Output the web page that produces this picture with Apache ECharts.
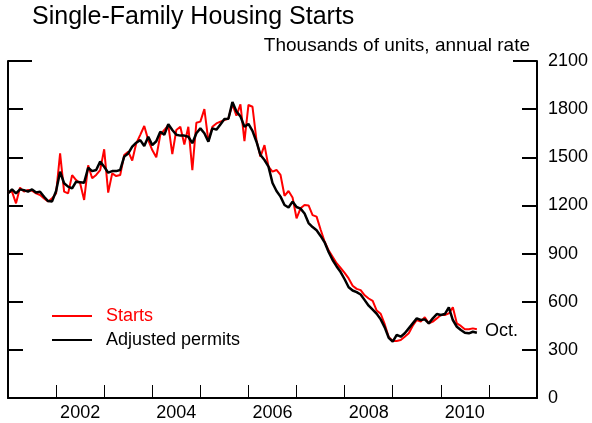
<!DOCTYPE html>
<html>
<head>
<meta charset="utf-8">
<script src="https://cdn.jsdelivr.net/npm/echarts@6/dist/echarts.min.js"></script>
<style>
html,body{margin:0;padding:0;background:#fff;}
#chart{width:592px;height:423px;}
</style>
</head>
<body>
<div id="chart"></div>
<script>
// Monthly data, Jan 2001 .. Oct 2010 (thousands of units, annual rate)
const startYear = 2001;
const starts = [
  1280, 1286, 1213, 1311, 1286, 1296, 1292, 1275, 1265, 1244, 1224, 1244,
  1275, 1524, 1286, 1275, 1389, 1358, 1338, 1234, 1450, 1369, 1390, 1420,
  1550, 1280, 1400, 1383, 1390, 1514, 1535, 1480, 1587, 1640, 1695, 1607,
  1545, 1500, 1640, 1670, 1701, 1520, 1670, 1690, 1580, 1690, 1420, 1715,
  1722, 1800, 1600, 1690, 1711, 1722, 1732, 1742, 1830, 1760, 1830, 1600,
  1826, 1815, 1607, 1504, 1576, 1442, 1411, 1421, 1390, 1260, 1290, 1250,
  1120, 1182, 1203, 1200, 1140, 1130, 1050, 975, 920, 880, 840, 810,
  780, 745, 700, 680, 672, 640, 620, 605, 545, 525, 460, 380,
  355, 355, 361, 382, 403, 450, 486, 476, 503, 465, 476, 496,
  517, 517, 527, 565, 465, 449, 428, 428, 434, 428
];
const permits = [
  1275, 1300, 1275, 1300, 1295, 1286, 1300, 1280, 1285, 1254, 1227, 1225,
  1290, 1410, 1338, 1317, 1306, 1348, 1345, 1342, 1435, 1414, 1421, 1473,
  1441, 1404, 1414, 1414, 1421, 1504, 1524, 1566, 1591, 1607, 1570, 1628,
  1576, 1600, 1660, 1640, 1706, 1670, 1640, 1635, 1635, 1628, 1588, 1650,
  1680, 1650, 1597, 1680, 1672, 1705, 1738, 1740, 1845, 1785, 1755, 1690,
  1708, 1665, 1597, 1514, 1483, 1442, 1340, 1290, 1255, 1203, 1187, 1224,
  1190, 1180, 1150, 1090, 1065, 1045, 1010, 970, 910, 860, 820, 785,
  740, 690, 670, 660, 645, 610, 575, 550, 525, 490, 440, 375,
  351, 393, 382, 403, 434, 465, 496, 486, 490, 465, 496, 523,
  517, 523, 565, 486, 444, 424, 407, 403, 413, 407
];
const axisYears = ['2001','2002','2003','2004','2005','2006','2007','2008','2009','2010','2011'];
const labelYears = ['2002','2004','2006','2008','2010'];
const yMin = 0, yMax = 2100, yStep = 300;

const toPairs = arr => arr.map((v, i) => [startYear + i / 12, v]);
const FONT = 'Liberation Sans, Arial, sans-serif';

const chart = echarts.init(document.getElementById('chart'), null, {renderer: 'canvas'});
const tickAxisBase = {
  type: 'value', min: yMin, max: yMax, interval: yStep,
  axisLine: {show: true, lineStyle: {color: '#000', width: 2}},
  axisTick: {show: true, inside: true, length: 15, lineStyle: {color: '#000', width: 2}},
  splitLine: {show: false}
};
chart.setOption({
  animation: false,
  backgroundColor: '#fff',
  grid: {left: 8, right: 55, top: 61, bottom: 25},
  graphic: [
    {type: 'text', left: 32, top: 5, style: {text: 'Single-Family Housing Starts', font: '25px ' + FONT, fill: '#000'}},
    {type: 'text', right: 62, top: 36, style: {text: 'Thousands of units, annual rate', font: '19px ' + FONT, fill: '#000'}},
    {type: 'text', left: 485, top: 322, style: {text: 'Oct.', font: '18px ' + FONT, fill: '#000'}}
  ],
  legend: {
    left: 47, top: 302, orient: 'vertical', itemGap: 6,
    itemWidth: 40, itemHeight: 2, icon: 'rect',
    textStyle: {fontFamily: FONT, fontSize: 18, lineHeight: 18, padding: [0, 0, 0, 9]},
    data: [
      {name: 'Starts', textStyle: {color: '#ff0000'}},
      {name: 'Adjusted permits', textStyle: {color: '#000'}}
    ]
  },
  xAxis: [
    {
      type: 'value', min: startYear, max: 2012, interval: 1,
      axisLine: {show: true, onZero: false, lineStyle: {color: '#000', width: 2}},
      axisTick: {show: true, inside: true, length: 13, lineStyle: {color: '#000', width: 1}},
      axisLabel: {show: false},
      splitLine: {show: false}
    },
    {
      type: 'category', data: axisYears, boundaryGap: true, position: 'bottom',
      axisLine: {show: false}, axisTick: {show: false}, splitLine: {show: false},
      axisLabel: {
        show: true, margin: 6, color: '#000', fontFamily: FONT, fontSize: 18,
        interval: (idx, val) => labelYears.includes(val)
      }
    }
  ],
  yAxis: [
    Object.assign({}, tickAxisBase, {
      position: 'right',
      axisLabel: {show: true, margin: 11, color: '#000', fontFamily: FONT, fontSize: 18,
                  formatter: v => String(v)}
    }),
    Object.assign({}, tickAxisBase, {position: 'left', axisLabel: {show: false}}),
    {type: 'value', min: yMin, max: yMax, interval: yMax, position: 'right',
     axisLine: {show: false}, axisLabel: {show: false}, splitLine: {show: false},
     axisTick: {show: true, inside: true, length: 24, lineStyle: {color: '#000', width: 2}}},
    {type: 'value', min: yMin, max: yMax, interval: yMax, position: 'left',
     axisLine: {show: false}, axisLabel: {show: false}, splitLine: {show: false},
     axisTick: {show: true, inside: true, length: 24, lineStyle: {color: '#000', width: 2}}}
  ],
  series: [
    {name: 'Starts', type: 'line', data: toPairs(starts), xAxisIndex: 0, yAxisIndex: 0,
     symbol: 'none', lineStyle: {color: '#ff0000', width: 2}, itemStyle: {color: '#ff0000'}},
    {name: 'Adjusted permits', type: 'line', data: toPairs(permits), xAxisIndex: 0, yAxisIndex: 0,
     symbol: 'none', lineStyle: {color: '#000', width: 2.5}, itemStyle: {color: '#000'}}
  ]
});
</script>
</body>
</html>
